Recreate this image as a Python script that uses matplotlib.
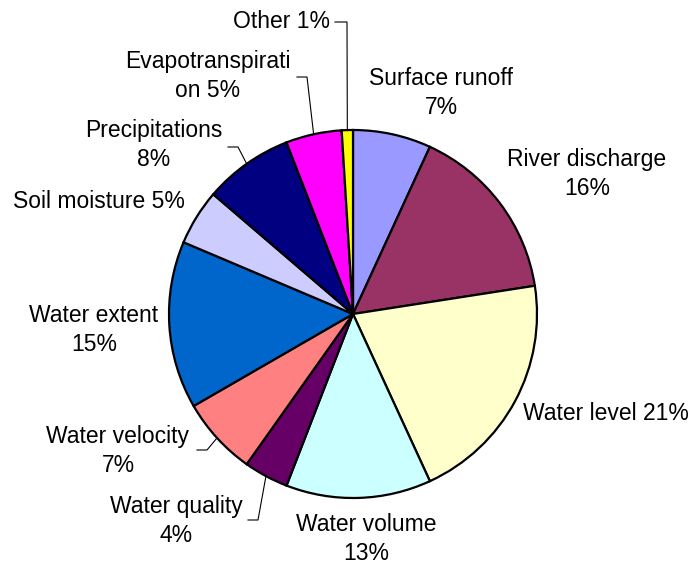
import numpy as np
import matplotlib
matplotlib.use("Agg")
from matplotlib import pyplot as plt

plt.rcParams['font.family'] = ['Liberation Sans', 'DejaVu Sans']

# Share of each variable, clockwise from 12 o'clock
label_fmt = [
    "Surface runoff\n{}%",
    "River discharge\n{}%",
    "Water level {}%",
    "Water volume\n{}%",
    "Water quality\n{}%",
    "Water velocity\n{}%",
    "Water extent\n{}%",
    "Soil moisture {}%",
    "Precipitations\n{}%",
    "Evapotranspirati\non {}%",
    "Other {}%",
]
shares = [7, 16, 21, 13, 4, 7, 15, 5, 8, 5, 1]
colors = ['#9999FF', '#993366', '#FFFFCC', '#CCFFFF', '#660066', '#FF8080',
          '#0066CC', '#CCCCFF', '#000080', '#FF00FF', '#FFFF00']

W, H = 694, 565
CX, CY, R = 353, 314, 184  # pie centre / radius in pixels (y from top)
FS = 16.5

# label block centres in pixels (y from top)
label_pos = [(441, 93), (587, 174), (606, 413), (366, 539), (176, 521),
             (118, 451), (94, 330), (99, 202), (154, 145), (208, 76),
             (330, 22)]
# leader lines: index -> (elbow x, elbow y, end x)
leaders = {
    4: (258, 520, 248),
    5: (207, 450, 197),
    8: (238, 147, 228),
    9: (307, 77, 297),
    10: (347, 22, 335),
}


def fy(y):
    return H - y


fig = plt.figure(figsize=(W / 100, H / 100), dpi=100)
ax = fig.add_axes([0, 0, 1, 1])

wedges, _ = ax.pie(shares, colors=colors, startangle=90, counterclock=False,
                   center=(CX, fy(CY)), radius=R, frame=True,
                   wedgeprops=dict(edgecolor='black', linewidth=1.6))
ax.set_xlim(0, W)
ax.set_ylim(0, H)
ax.set_aspect('equal')
ax.axis('off')

for i, (w, fmt) in enumerate(zip(wedges, label_fmt)):
    x, y = label_pos[i]
    text = fmt.format(shares[i])
    if i == 10:
        ax.text(x, fy(y), text, ha='right', va='center', fontsize=FS)
    else:
        ax.text(x, fy(y), text, ha='center', va='center', fontsize=FS,
                multialignment='center', linespacing=1.3)
    if i in leaders:
        mid = np.deg2rad((w.theta1 + w.theta2) / 2)
        ex = CX + R * np.cos(mid)
        ey = fy(CY) + R * np.sin(mid)
        bx, by, tx = leaders[i]
        ax.plot([ex, bx, tx], [ey, fy(by), fy(by)], color='black', lw=0.8)

fig.savefig('out.png', dpi=100)
